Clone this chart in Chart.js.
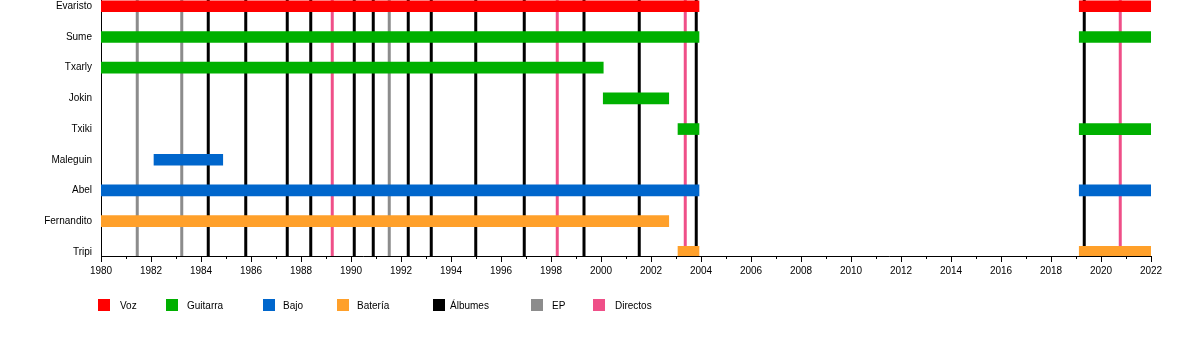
<!DOCTYPE html>
<html>
<head>
<meta charset="utf-8">
<script src="https://cdn.jsdelivr.net/npm/chart.js@4.4.1/dist/chart.umd.min.js"></script>
<style>
html,body{margin:0;padding:0;background:#fff;}
canvas{display:block;}
</style>
</head>
<body>
<canvas id="c" width="1200" height="356"></canvas>
<script>
// ---- data ----
const members = ['Evaristo','Sume','Txarly','Jokin','Txiki','Maleguin','Abel','Fernandito','Tripi'];
const yearTicks = [1980,1982,1984,1986,1988,1990,1992,1994,1996,1998,2000,2002,2004,2006,2008,2010,2012,2014,2016,2018,2020,2022];

const vozSpans = [['Evaristo',1980,2003.92],['Evaristo',2019.13,2022]];
const guitarraSpans = [['Sume',1980,2003.92],['Sume',2019.13,2022],['Txarly',1980,2000.09],['Jokin',2000.09,2002.71],['Txiki',2003.08,2003.92],['Txiki',2019.13,2022]];
const bajoSpans = [['Maleguin',1982.12,1984.87],['Abel',1980,2003.92],['Abel',2019.13,2022]];
const bateriaSpans = [['Fernandito',1980,2002.71],['Tripi',2003.08,2003.92],['Tripi',2019.13,2022]];

const albumYears = [1984.29,1985.79,1987.45,1988.39,1990.13,1990.89,1992.29,1993.21,1994.99,1996.93,1999.32,2001.53,2003.81,2019.33];
const epYears = [1981.45,1983.23,1991.53];
const directosYears = [1989.25,1998.25,2003.37,2020.77];

// ---- helpers ----
const Y_MIN = -0.205, Y_MAX = 8.136;
function spans(list){ return list.map(([m,s,e]) => ({y: members.indexOf(m), x: [s,e]})); }
function vlines(years){
  const out = [];
  years.forEach(yr => { out.push({x: yr, y: Y_MIN}, {x: yr, y: Y_MAX}, {x: null, y: null}); });
  return out;
}
const FONT = '"Liberation Sans", Arial, sans-serif';
const barCommon = {xAxisID:'x', yAxisID:'y', barThickness:11, grouped:false, borderWidth:0, borderSkipped:false, order:0};
const lineCommon = {type:'line', xAxisID:'x', yAxisID:'y', indexAxis:'x', borderWidth:3, pointRadius:0, pointHoverRadius:0, fill:false, spanGaps:false, order:1, tension:0};

const legendPlugin = {
  id: 'customLegend',
  afterDraw(chart, args, opts) {
    const ctx = chart.ctx;
    ctx.save();
    ctx.font = '10px ' + FONT;
    ctx.textBaseline = 'middle';
    ctx.textAlign = 'left';
    chart.data.datasets.forEach((d, i) => {
      ctx.fillStyle = d.type === 'line' ? d.borderColor : d.backgroundColor;
      ctx.fillRect(opts.boxX[i], opts.boxY, opts.boxSize, opts.boxSize);
      ctx.fillStyle = '#000';
      ctx.fillText(d.label, opts.textX[i], opts.textY);
    });
    ctx.restore();
  }
};

new Chart(document.getElementById('c'), {
  type: 'bar',
  data: {
    datasets: [
      Object.assign({label:'Voz', data: spans(vozSpans), backgroundColor:'#ff0000'}, barCommon),
      Object.assign({label:'Guitarra', data: spans(guitarraSpans), backgroundColor:'#00b000'}, barCommon),
      Object.assign({label:'Bajo', data: spans(bajoSpans), backgroundColor:'#0066cc'}, barCommon),
      Object.assign({label:'Batería', data: spans(bateriaSpans), backgroundColor:'#ffa02a'}, barCommon),
      Object.assign({label:'Álbumes', data: vlines(albumYears), borderColor:'#000000'}, lineCommon),
      Object.assign({label:'EP', data: vlines(epYears), borderColor:'#8c8c8c'}, lineCommon),
      Object.assign({label:'Directos', data: vlines(directosYears), borderColor:'#ef4f88'}, lineCommon)
    ]
  },
  options: {
    indexAxis: 'y',
    responsive: false,
    animation: false,
    events: [],
    layout: {padding: {top: 0, right: 49, bottom: 0, left: 0}},
    plugins: {
      legend: {display: false},
      tooltip: {enabled: false},
      customLegend: {
        boxX: [98,166,263,337,433,531,593],
        textX: [120,187,283,357,450,552,615],
        boxY: 299, boxSize: 12, textY: 306
      }
    },
    scales: {
      x: {
        type: 'linear', position: 'bottom', weight: 1, offset: false,
        min: yearTicks[0], max: yearTicks[yearTicks.length-1],
        afterBuildTicks: s => { s.ticks = yearTicks.map(v => ({value: v})); },
        ticks: {font: {size: 10, family: FONT}, color: '#000', padding: 3, maxRotation: 0, autoSkip: false, callback: v => String(v)},
        grid: {display: true, offset: false, drawOnChartArea: false, drawTicks: true, tickLength: 6, tickColor: '#000', tickWidth: 1},
        border: {display: true, color: '#000', width: 1},
        afterFit: s => { s.height = 100; }
      },
      x2: {
        type: 'linear', position: 'bottom', weight: 0, offset: false,
        min: yearTicks[0], max: yearTicks[yearTicks.length-1],
        ticks: {display: false, stepSize: 1},
        grid: {display: true, offset: false, drawOnChartArea: false, drawTicks: true, tickLength: 3, tickColor: '#000', tickWidth: 1},
        border: {display: false},
        afterFit: s => { s.height = 0; s.paddingLeft = 0; s.paddingRight = 0; }
      },
      y: {
        type: 'linear', reverse: true, min: Y_MIN, max: Y_MAX, offset: false,
        afterBuildTicks: s => { s.ticks = members.map((_, i) => ({value: i})); },
        ticks: {font: {size: 10, family: FONT}, color: '#000', padding: 9, callback: v => members[v] ?? ''},
        grid: {display: true, offset: false, drawOnChartArea: false, drawTicks: false},
        border: {display: true, color: '#000', width: 1},
        afterFit: s => { s.width = 101; s.paddingTop = 0; s.paddingBottom = 0; }
      }
    }
  },
  plugins: [legendPlugin]
});
</script>
</body>
</html>
